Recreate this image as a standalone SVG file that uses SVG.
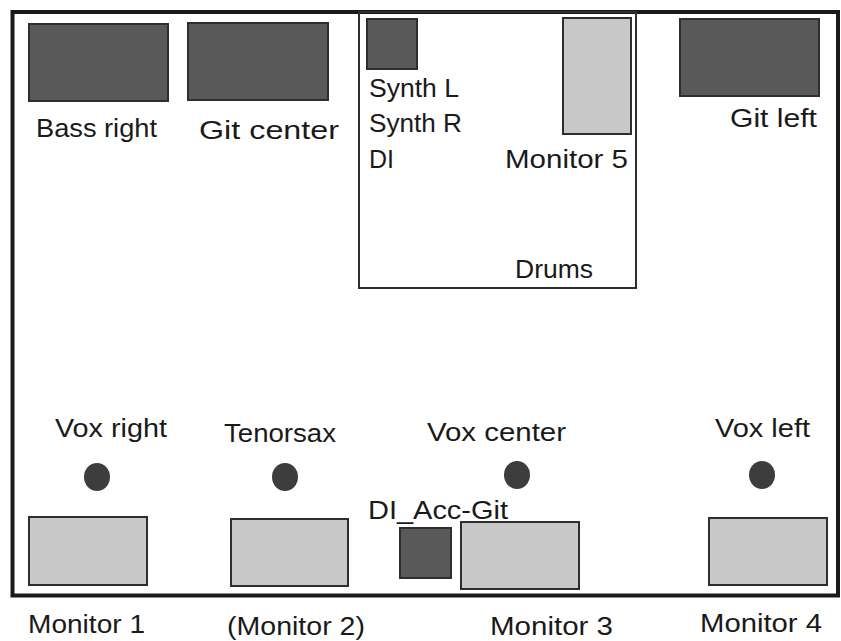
<svg xmlns="http://www.w3.org/2000/svg" width="841" height="641" viewBox="0 0 841 641">
<style>
  text { font-family: "Liberation Sans", Arial, sans-serif; font-size: 26px; fill: #1a1a1a; }
  .dark { fill: #595959; stroke: #2e2e2e; stroke-width: 2; }
  .light { fill: #c8c8c8; stroke: #2e2e2e; stroke-width: 2; }
  .mic { fill: #3d3d3d; }
</style>
<rect width="841" height="641" fill="#ffffff"/>
<g id="stage">
  <rect x="12.5" y="12" width="825.5" height="583.5" fill="none" stroke="#1a1a1a" stroke-width="4"/>
</g>
<g id="drums">
  <rect x="359" y="12" width="277" height="276" fill="none" stroke="#2e2e2e" stroke-width="2"/>
  <text x="515" y="278" textLength="78" lengthAdjust="spacingAndGlyphs">Drums</text>
</g>
<g id="bass-right">
  <rect class="dark" x="29" y="24" width="139" height="77"/>
  <text x="36" y="137" textLength="121" lengthAdjust="spacingAndGlyphs">Bass right</text>
</g>
<g id="git-center">
  <rect class="dark" x="188" y="23" width="140" height="77"/>
  <text x="199" y="139" textLength="140" lengthAdjust="spacingAndGlyphs">Git center</text>
</g>
<g id="synth">
  <rect class="dark" x="367" y="19" width="50" height="50"/>
  <text x="369" y="97" textLength="90" lengthAdjust="spacingAndGlyphs">Synth L</text>
  <text x="369" y="132" textLength="93" lengthAdjust="spacingAndGlyphs">Synth R</text>
  <text x="369" y="168" textLength="25" lengthAdjust="spacingAndGlyphs">DI</text>
</g>
<g id="monitor-5">
  <rect class="light" x="563" y="18" width="68" height="116"/>
  <text x="505" y="168" textLength="123" lengthAdjust="spacingAndGlyphs">Monitor 5</text>
</g>
<g id="git-left">
  <rect class="dark" x="680" y="19" width="139" height="77"/>
  <text x="730" y="127" textLength="87" lengthAdjust="spacingAndGlyphs">Git left</text>
</g>
<g id="vox-right">
  <text x="55" y="437" textLength="112" lengthAdjust="spacingAndGlyphs">Vox right</text>
  <ellipse class="mic" cx="97" cy="477" rx="13" ry="14"/>
</g>
<g id="tenorsax">
  <text x="224" y="442" textLength="112" lengthAdjust="spacingAndGlyphs">Tenorsax</text>
  <ellipse class="mic" cx="285" cy="477" rx="13" ry="14"/>
</g>
<g id="vox-center">
  <text x="427" y="441" textLength="139" lengthAdjust="spacingAndGlyphs">Vox center</text>
  <ellipse class="mic" cx="517" cy="475" rx="13" ry="14"/>
</g>
<g id="vox-left">
  <text x="715" y="437" textLength="95" lengthAdjust="spacingAndGlyphs">Vox left</text>
  <ellipse class="mic" cx="762" cy="475" rx="13" ry="14"/>
</g>
<g id="monitor-1">
  <rect class="light" x="29" y="517" width="118" height="68"/>
  <text x="28" y="633" textLength="117" lengthAdjust="spacingAndGlyphs">Monitor 1</text>
</g>
<g id="monitor-2">
  <rect class="light" x="231" y="519" width="117" height="67"/>
  <text x="227" y="635" textLength="138" lengthAdjust="spacingAndGlyphs">(Monitor 2)</text>
</g>
<g id="di-acc-git">
  <rect class="dark" x="400" y="528" width="51" height="50"/>
  <text x="368" y="519" textLength="140" lengthAdjust="spacingAndGlyphs">DI_Acc-Git</text>
</g>
<g id="monitor-3">
  <rect class="light" x="461" y="522" width="118" height="67"/>
  <text x="490" y="635" textLength="123" lengthAdjust="spacingAndGlyphs">Monitor 3</text>
</g>
<g id="monitor-4">
  <rect class="light" x="709" y="518" width="118" height="67"/>
  <text x="700" y="632" textLength="122" lengthAdjust="spacingAndGlyphs">Monitor 4</text>
</g>
<g id="connectors"></g>
</svg>
